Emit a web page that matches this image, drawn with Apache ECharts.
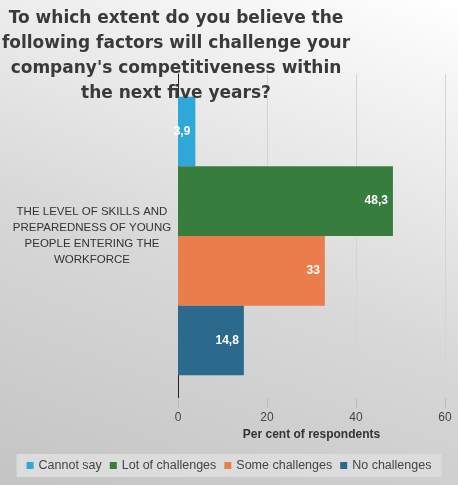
<!DOCTYPE html>
<html><head><meta charset="utf-8">
<script src="https://cdn.jsdelivr.net/npm/echarts@6/dist/echarts.min.js"></script>
<style>
html,body{margin:0;padding:0;}
#chart{width:458px;height:485px;background:linear-gradient(20deg,#c4c4c4 0%,#d8d8d8 45%,#ffffff 100%);}
</style></head><body>
<div id="chart"></div>
<script>
var titleText = "To which extent do you believe the\nfollowing factors will challenge your\ncompany's competitiveness within\nthe next five years?";
var categories = ['THE LEVEL OF SKILLS AND\nPREPAREDNESS OF YOUNG\nPEOPLE ENTERING THE\nWORKFORCE'];
var seriesNames = ['Cannot say', 'Lot of challenges', 'Some challenges', 'No challenges'];
var seriesValues = [[3.9], [48.3], [33], [14.8]];
var colors = ['#2fa8d8', '#367d3e', '#e97d4b', '#2b6a8c'];

var chart = echarts.init(document.getElementById('chart'));
var series = seriesNames.map(function (n, i) {
    return {
        name: n, type: 'bar', data: seriesValues[i],
        barGap: '0%', barCategoryGap: '14%',
        itemStyle: {color: colors[i]},
        label: {
            show: true, position: 'insideRight', color: '#fff', fontWeight: 'bold',
            fontSize: 12, fontFamily: 'Liberation Sans',
            formatter: function (p) { return String(p.value).replace('.', ','); }
        }
    };
});
chart.setOption({
    textStyle: {fontFamily: 'Liberation Sans'},
    graphic: [{
        type: 'text', x: 176, y: 6, z: 10,
        style: {
            text: titleText, align: 'center', verticalAlign: 'top',
            font: 'bold 17px "DejaVu Sans"', lineHeight: 25, fill: '#3a3a3a'
        }
    }],
    legend: {
        bottom: 8, left: 'center', itemWidth: 7, itemHeight: 7, itemGap: 8,
        backgroundColor: '#dcdcdc', padding: [5, 10],
        icon: 'rect', textStyle: {fontSize: 12.5, color: '#444'}
    },
    grid: {left: 178, right: 13, top: 74, bottom: 87},
    xAxis: {
        type: 'value', min: 0, max: 60, interval: 20,
        name: 'Per cent of respondents', nameLocation: 'middle', nameGap: 27,
        nameTextStyle: {fontWeight: 'bold', color: '#333', fontSize: 12},
        axisLine: {show: false},
        axisTick: {show: true, length: 10, lineStyle: {color: '#bbb'}},
        axisLabel: {color: '#444', fontSize: 12, margin: 14},
        splitLine: {lineStyle: {color: '#d4d4d4'}}
    },
    yAxis: {
        type: 'category', data: categories, inverse: true,
        axisLine: {lineStyle: {color: '#222'}},
        axisTick: {show: false},
        axisLabel: {color: '#333', fontSize: 11.5, align: 'center', margin: 86, lineHeight: 16}
    },
    series: series
});
</script>
</body></html>
